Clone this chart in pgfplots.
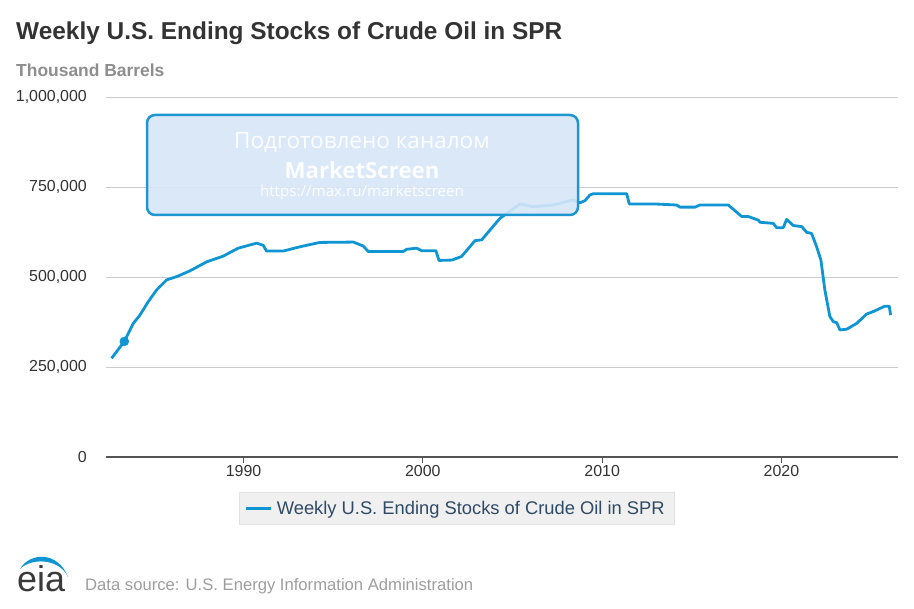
\documentclass[border=0pt]{standalone}
\usepackage{fontspec}
\setmainfont{Liberation Sans}
\newfontfamily\osans{Open Sans}
\usepackage{pgfplots}
\pgfplotsset{compat=1.18}
\definecolor{eiablue}{HTML}{0F96D2}
\definecolor{boxblue}{HTML}{1E96D2}
\definecolor{boxfill}{HTML}{D6E6F8}
\definecolor{titlegray}{HTML}{333333}
\definecolor{unitgray}{HTML}{8E8E8E}
\definecolor{ticktext}{HTML}{333333}
\definecolor{axisgray}{HTML}{555555}
\definecolor{gridgray}{HTML}{CCCCCC}
\definecolor{legfill}{HTML}{F0F0F0}
\definecolor{legdraw}{HTML}{E2E2E2}
\definecolor{legtext}{HTML}{2F4A66}
\definecolor{footgray}{HTML}{9E9E9E}
\definecolor{logogray}{HTML}{3A3A3A}
\begin{document}
\begin{tikzpicture}[x=1bp,y=1bp]
\path[use as bounding box, fill=white] (0,0) rectangle (914,609);
\node[anchor=base west, inner sep=0, font=\fontsize{24.5}{28}\selectfont\bfseries, text=titlegray] at (16,569) {Weekly U.S. Ending Stocks of Crude Oil in SPR};
\node[anchor=base west, inner sep=0, font=\fontsize{17.5}{20}\selectfont\bfseries, text=unitgray] at (16,532) {Thousand Barrels};
\begin{axis}[
  at={(106bp,152bp)}, anchor=south west, scale only axis,
  width=792bp, height=360bp,
  xmin=1982.33, xmax=2026.5, ymin=0, ymax=1000000,
  scaled y ticks=false, scaled x ticks=false,
  axis x line*=bottom, axis y line*=left,
  y axis line style={draw=none},
  x axis line style={draw=axisgray, line width=1.3bp, -},
  xtick={1990,2000,2010,2020}, xticklabels={1990,2000,2010,2020},
  ytick={0,250000,500000,750000,1000000},
  yticklabels={0,{250,000},{500,000},{750,000},{1,000,000}},
  tick align=outside, major tick length=6bp,
  xtick style={draw=axisgray, line width=1bp},
  ytick style={draw=none},
  ymajorgrids, grid style={draw=gridgray, line width=0.9bp},
  ticklabel style={font=\fontsize{16}{18}\selectfont, text=ticktext},
  yticklabel style={inner sep=0pt, xshift=-13bp},
  xticklabel style={inner sep=0pt, yshift=-2bp},
  legend style={at={(axis description cs:0.443,-0.142)}, anchor=center,
    fill=legfill, draw=legdraw, font=\fontsize{18.4}{20}\selectfont, text=legtext,
    inner xsep=6bp, inner ysep=7bp, nodes={inner xsep=4bp}},
  legend image code/.code={\draw[#1, line width=2.8bp] (0bp,0bp) -- (25bp,0bp);},
]
\addplot[eiablue, line width=2.8bp, line join=round] coordinates {
(1982.64,274000) (1983.35,321000) (1983.85,371000) (1984.22,394000)
(1984.68,431000) (1985.15,464000) (1985.71,492000) (1986.27,501000)
(1987.01,517000) (1987.94,542000) (1988.87,558000) (1989.70,580000)
(1990.73,594000) (1991.10,588000) (1991.28,572000) (1992.21,572000)
(1993.15,584000) (1994.26,596000) (1996.12,597000) (1996.68,586000)
(1996.95,571000) (1998.91,571000) (1999.10,577000) (1999.65,580000)
(1999.93,573000) (2000.73,573000) (2000.90,546000) (2001.62,547000)
(2002.16,557000) (2002.91,601000) (2003.28,603000) (2004.30,663000)
(2005.42,703000) (2006.14,695000) (2007.27,700000) (2008.37,714000)
(2008.76,706000) (2009.04,712000) (2009.32,728000) (2009.50,731000)
(2011.37,731000) (2011.51,703000) (2012.85,703000) (2014.15,700000)
(2014.34,694000) (2015.18,694000) (2015.45,700000) (2017.03,700000)
(2017.41,684000) (2017.78,668000) (2018.15,668000) (2018.71,658000)
(2018.80,652000) (2019.54,649000) (2019.73,637000) (2020.10,637000)
(2020.29,660000) (2020.66,643000) (2021.13,640000) (2021.41,624000)
(2021.68,621000) (2021.96,584000) (2022.20,547000) (2022.42,464000)
(2022.70,390000) (2022.89,376000) (2023.08,373000) (2023.26,353000)
(2023.64,355000) (2024.19,371000) (2024.75,397000) (2025.12,404000)
(2025.77,419000) (2026.01,419000) (2026.09,394000)
};
\addlegendentry{Weekly U.S. Ending Stocks of Crude Oil in SPR}
\addplot[only marks, mark=*, mark size=4.5bp, eiablue, forget plot] coordinates {(1983.35,321000)};
\end{axis}
% watermark
\draw[draw=boxblue, line width=2.5bp, fill=boxfill, fill opacity=0.9, rounded corners=8bp] (147,394) rectangle (578,494);
\node[text=white, text opacity=0.92, font=\osans\fontsize{22.6}{24}\selectfont] at (362,466) {Подготовлено каналом};
\node[text=white, text opacity=0.92, font=\osans\bfseries\fontsize{22.3}{24}\selectfont] at (362,439) {MarketScreen};
\node[text=white, text opacity=0.92, font=\osans\fontsize{15.2}{17}\selectfont] at (362,416) {https://max.ru/marketscreen};
% footer
\fill[eiablue] (20,40) .. controls (30,57) and (58,58) .. (68,32) .. controls (60,50) and (32,52) .. cycle;
\node[anchor=base west, inner sep=0, font=\fontsize{36}{38}\selectfont, text=logogray] at (17,17) {eia};
\node[anchor=base west, inner sep=0, font=\fontsize{16.7}{18}\selectfont, text=footgray] at (85,18) {Data source: U.S. Energy Information Administration};
\end{tikzpicture}
\end{document}
